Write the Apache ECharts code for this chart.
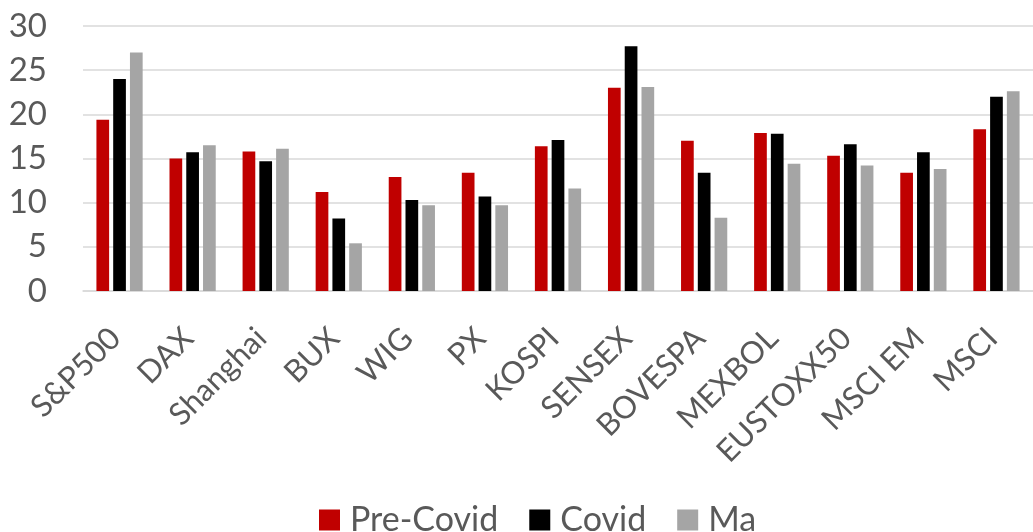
<!DOCTYPE html>
<html>
<head>
<meta charset="utf-8">
<script src="https://cdn.jsdelivr.net/npm/echarts@6/dist/echarts.min.js"></script>
<style>
html,body{margin:0;padding:0;background:#fff;}
#main{width:1033px;height:532px;}
</style>
</head>
<body>
<div id="main"></div>
<script>
const categories = ['S&P500','DAX','Shanghai','BUX','WIG','PX','KOSPI','SENSEX','BOVESPA','MEXBOL','EUSTOXX50','MSCI EM','MSCI'];
const preCovid = [19.4, 15.0, 15.8, 11.2, 12.9, 13.4, 16.4, 23.0, 17.0, 17.9, 15.3, 13.4, 18.3];
const covid    = [24.0, 15.7, 14.7, 8.2, 10.3, 10.7, 17.1, 27.7, 13.4, 17.8, 16.6, 15.7, 22.0];
const ma       = [27.0, 16.5, 16.1, 5.4, 9.7, 9.7, 11.6, 23.1, 8.3, 14.4, 14.2, 13.8, 22.6];
const yTicks = {min: 0, max: 30, interval: 5};

const FONT = 'Lato, "Open Sans", sans-serif';
const chart = echarts.init(document.getElementById('main'), null, {renderer: 'canvas'});
chart.setOption({
  animation: false,
  textStyle: {fontFamily: FONT},
  grid: {left: 83, top: 26, width: 964, height: 265, containLabel: false},
  legend: {
    data: ['Pre-Covid', 'Covid', 'Ma'],
    left: 314, top: 498,
    itemWidth: 21, itemHeight: 21, itemGap: 31,
    icon: 'rect',
    textStyle: {fontSize: 34, color: '#595959', fontFamily: FONT, padding: [0, 0, 0, 5]}
  },
  xAxis: {
    type: 'category',
    data: categories,
    axisLine: {show: true, lineStyle: {color: '#D9D9D9', width: 1.5}},
    axisTick: {show: false},
    axisLabel: {rotate: 45, fontSize: 31, color: '#595959', margin: 38, padding: [34, 6, 0, 0], interval: 0, fontFamily: FONT}
  },
  yAxis: {
    type: 'value',
    min: yTicks.min, max: yTicks.max, interval: yTicks.interval,
    axisLine: {show: false},
    axisTick: {show: false},
    splitLine: {lineStyle: {color: '#D9D9D9', width: 1.5}},
    axisLabel: {fontSize: 33, color: '#595959', margin: 36, fontFamily: FONT}
  },
  series: [
    {name: 'Pre-Covid', type: 'bar', data: preCovid, barWidth: 12.7, barGap: '32%', itemStyle: {color: '#C00000'}},
    {name: 'Covid', type: 'bar', data: covid, barWidth: 12.7, barGap: '32%', itemStyle: {color: '#000000'}},
    {name: 'Ma', type: 'bar', data: ma, barWidth: 12.7, barGap: '32%', itemStyle: {color: '#A5A5A5'}}
  ]
});
</script>
</body>
</html>
